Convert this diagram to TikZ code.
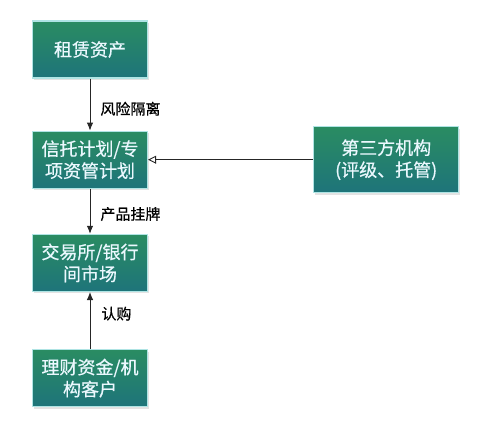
\documentclass[tikz,border=0pt]{standalone}
\usepackage{fontspec}
\setmainfont{Noto Sans CJK SC}
\newfontfamily\semibold{Noto Sans CJK SC}[FakeBold=0.6]
\usetikzlibrary{arrows.meta,positioning,shadows}
\definecolor{boxtop}{RGB}{42,140,98}
\definecolor{boxbot}{RGB}{30,116,122}
\definecolor{boxrim}{RGB}{175,228,228}
\tikzset{
  fbox/.style   ={draw=boxrim, line width=1.2pt, top color=boxtop, bottom color=boxbot,
                  text=white!92!cyan, align=center,
                  font=\semibold\fontsize{18}{22}\selectfont,
                  minimum width=115pt, minimum height=57pt, inner sep=2pt,
                  drop shadow={shadow xshift=1.5pt, shadow yshift=-2pt, fill=black!22}},
  fside/.style  ={fbox, minimum width=145pt, minimum height=66pt},
  farrow/.style ={-{Latex[length=8pt,width=6.5pt]}, line width=.9pt, draw=black!85},
  fopen/.style  ={-{Triangle[open,length=8pt,width=8pt]}, line width=.9pt, draw=black!85},
  flabel/.style ={font=\semibold\fontsize{15}{17}\selectfont, inner sep=0pt},
}
\begin{document}
\begin{tikzpicture}
  \useasboundingbox (0,0) rectangle (487pt,426pt);

  % ---- 左列 ----
  \node[fbox] (lease) at (90pt,376.5pt) {租赁资产};
  \node[fbox, below=52pt of lease] (trust) {信托计划/专\\项资管计划};
  \node[fbox, below=45pt of trust] (market) {交易所/银行\\间市场};
  \node[fbox, below=57pt of market] (buyer) {理财资金/机\\构客户};

  % ---- 右侧 ----
  \node[fside, right=165pt of trust] (third) {第三方机构\\(评级、托管)};

  % ---- arrows ----
  \draw[farrow] (lease) -- node[flabel, right=10pt, pos=0.58] {风险隔离} (trust);
  \draw[farrow] (trust) -- node[flabel, right=10pt, pos=0.56] {产品挂牌} (market);
  \draw[farrow] (buyer) -- node[flabel, right=11pt, pos=0.62] {认购} (market);
  \draw[fopen]  (third) -- (trust);

\end{tikzpicture}
\end{document}
